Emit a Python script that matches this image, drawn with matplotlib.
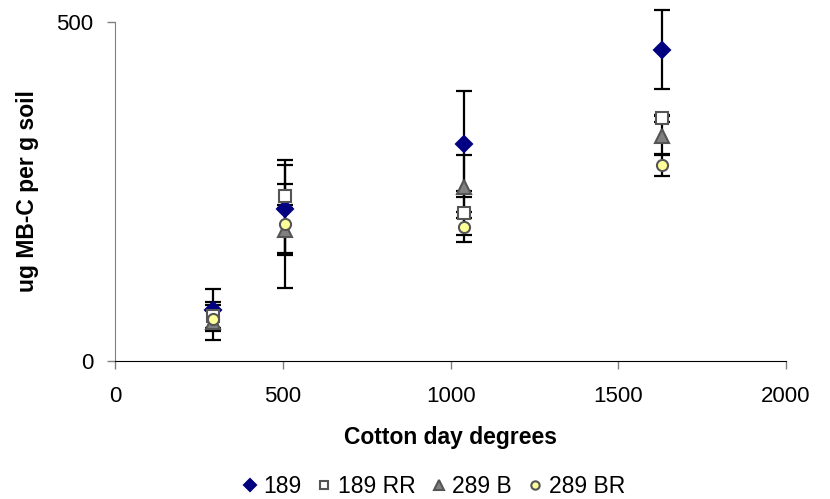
import numpy as np
import matplotlib.pyplot as plt

plt.rcParams['font.family'] = ['Liberation Sans', 'DejaVu Sans']

# cotton day degrees at each sampling
days = [290, 505, 1040, 1630]

labels = ['189', '189 RR', '289 B', '289 BR']
mbc_189 = [75, 224, 320, 459]
err_189 = [31, 65, 78, 58]
mbc_189rr = [66, 243, 218, 358]
err_189rr = [21, 18, 33, 5]
mbc_289b = [57, 193, 257, 332]
err_289b = [26, 37, 46, 29]
mbc_289br = [62, 202, 198, 289]
err_289br = [13, 94, 22, 16]

fig = plt.figure(figsize=(8.3, 4.99), dpi=100)
ax = fig.add_axes([0.139, 0.277, 0.808, 0.679])

styles = [
    dict(marker='D', color='#000080', mec='#000080', ms=8),
    dict(marker='s', color='white', mec='#555555', ms=8),
    dict(marker='^', color='#808080', mec='#555555', ms=9.5),
    dict(marker='o', color='#FFFF99', mec='#555555', ms=8),
]
series = [(mbc_189, err_189), (mbc_189rr, err_189rr),
          (mbc_289b, err_289b), (mbc_289br, err_289br)]

for (y, e) in series:
    ax.errorbar(days, y, yerr=e, fmt='none', ecolor='black', elinewidth=1.6,
                capsize=5.5, capthick=1.6, zorder=2, clip_on=False)
for (y, e), st, lab in zip(series, styles, labels):
    ax.plot(days, y, ls='none', marker=st['marker'], mfc=st['color'],
            mec=st['mec'], mew=1.5, ms=st['ms'], label=lab, zorder=3)

ax.set_xlim(0, 2000)
ax.set_ylim(0, 500)
ax.set_xticks([0, 500, 1000, 1500, 2000])
ax.set_yticks([0, 500])
ax.tick_params(labelsize=16, length=6, width=1)
ax.spines['top'].set_visible(False)
ax.spines['right'].set_visible(False)
ax.spines['left'].set_color('#808080')
ax.spines['bottom'].set_color('black')
ax.tick_params(axis='x', colors='#808080', labelcolor='black', pad=12)
ax.tick_params(axis='y', colors='#808080', labelcolor='black', pad=10)

ax.set_xlabel('Cotton day degrees', fontsize=16.5, fontweight='bold', labelpad=14)
ax.set_ylabel('ug MB-C per g soil', fontsize=16.5, fontweight='bold', labelpad=12)

fig.legend(loc='lower center', bbox_to_anchor=(0.52, -0.04), ncol=4, frameon=False,
           fontsize=16.5, handletextpad=0.1, columnspacing=0.5, markerscale=0.75,
           handlelength=1.0)

fig.savefig('out.png', dpi=100)
